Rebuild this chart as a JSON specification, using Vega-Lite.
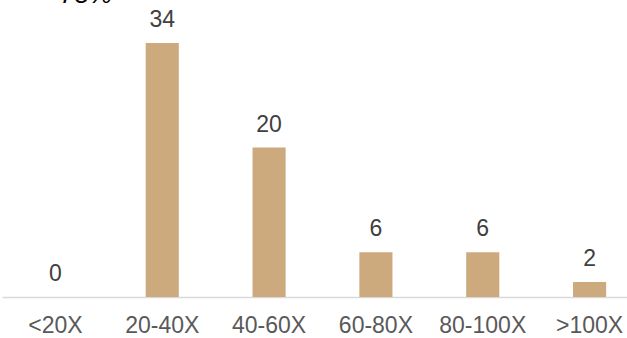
{
  "$schema": "https://vega.github.io/schema/vega-lite/v6.json",
  "autosize": "none",
  "width": 641,
  "height": 287,
  "padding": {"left": 2, "top": 10, "right": 0, "bottom": 41},
  "background": "white",
  "title": {"text": "75%", "anchor": "start", "font": "Liberation Sans", "fontStyle": "italic", "fontWeight": "normal", "fontSize": 26, "color": "#000000", "baseline": "alphabetic", "offset": 0, "dx": 58, "dy": 20},
  "data": {"values": [
    {"range": "<20X", "count": 0},
    {"range": "20-40X", "count": 34},
    {"range": "40-60X", "count": 20},
    {"range": "60-80X", "count": 6},
    {"range": "80-100X", "count": 6},
    {"range": ">100X", "count": 2}
  ]},
  "config": {"view": {"stroke": null}},
  "encoding": {
    "x": {"field": "range", "type": "nominal", "sort": null,
      "scale": {"paddingInner": 0.69, "paddingOuter": 0.345},
      "axis": {"title": null, "labelAngle": 0, "labelFont": "Liberation Sans", "labelFontSize": 23, "labelColor": "#595959", "labelPadding": 17, "ticks": false, "domainColor": "#D9D9D9", "domainWidth": 1.5, "grid": false}},
    "y": {"field": "count", "type": "quantitative", "scale": {"domain": [0, 38.42], "nice": false}, "axis": null}
  },
  "layer": [
    {"mark": {"type": "bar", "color": "#CDAA7D"}},
    {"mark": {"type": "text", "baseline": "alphabetic", "dy": -16, "font": "Liberation Sans", "fontSize": 23, "color": "#404040"},
     "encoding": {"text": {"field": "count", "type": "quantitative"}}}
  ]
}
